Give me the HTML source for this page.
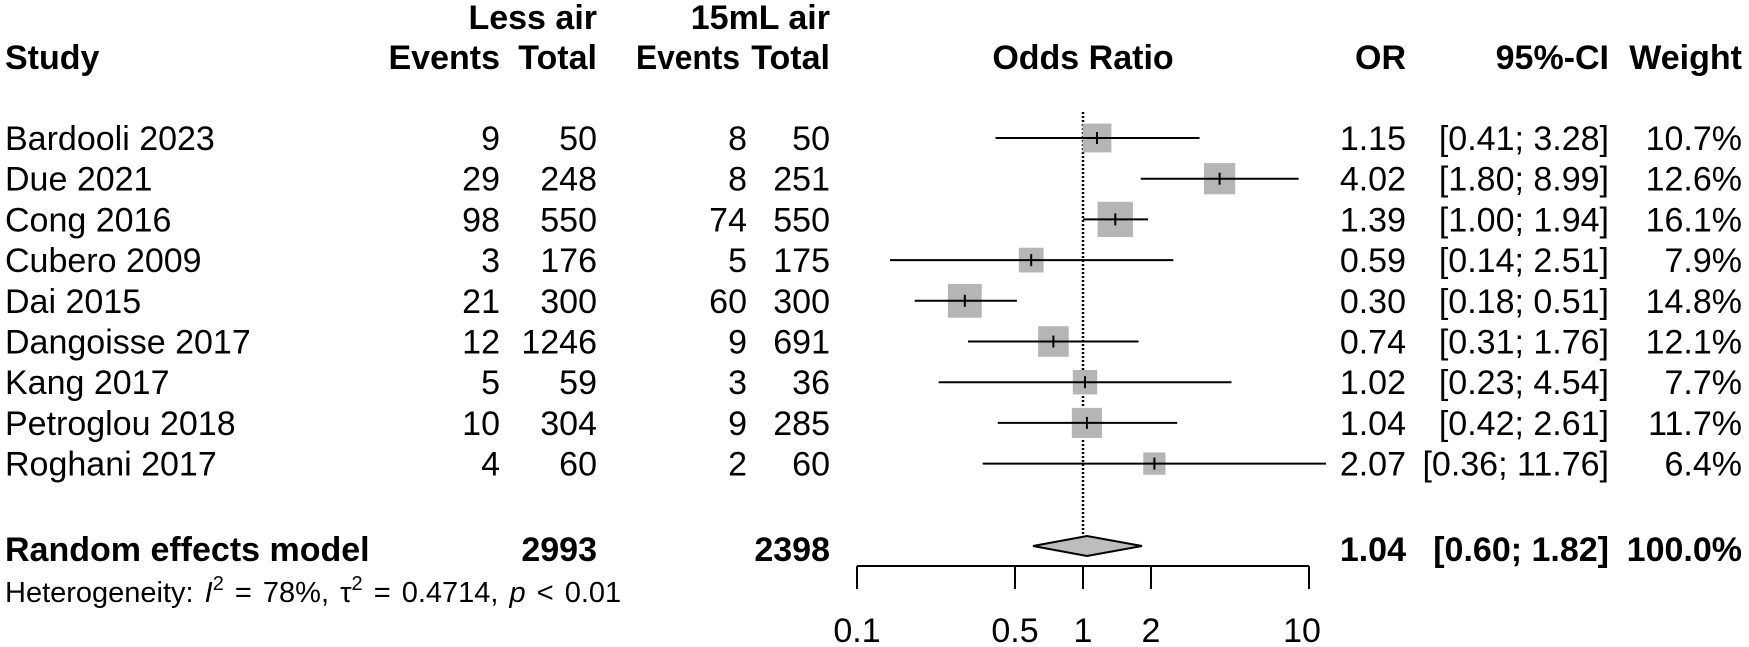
<!DOCTYPE html>
<html><head><meta charset="utf-8"><style>
html,body{margin:0;padding:0;background:#fff}
svg{display:block}
text{font-family:"Liberation Sans",Arial,sans-serif;fill:#000}
.b{font-weight:bold}
.r{text-anchor:end}
.c{text-anchor:middle}
</style></head><body>
<svg width="1749" height="647" viewBox="0 0 1749 647" xmlns="http://www.w3.org/2000/svg">
<g font-size="34">
<text class="b r" x="597" y="29">Less air</text>
<text class="b r" x="830" y="29">15mL air</text>
<text class="b" x="5" y="69">Study</text>
<text class="b r" x="500" y="69">Events</text>
<text class="b r" x="597" y="69">Total</text>
<text class="b" x="636" y="69" textLength="104" lengthAdjust="spacingAndGlyphs">Events</text>
<text class="b r" x="830" y="69">Total</text>
<text class="b c" x="1083" y="69">Odds Ratio</text>
<text class="b r" x="1406" y="69">OR</text>
<text class="b r" x="1609" y="69">95%-CI</text>
<text class="b r" x="1742" y="69">Weight</text>
</g>
<line x1="1083" y1="112" x2="1083" y2="537" stroke="#000" stroke-width="2.5" stroke-dasharray="2,2"/>
<g font-size="34" id="rows"></g>
<g font-size="34">
<text class="b" x="5" y="561">Random effects model</text>
<text class="b r" x="597" y="561">2993</text>
<text class="b r" x="830" y="561">2398</text>
<text class="b r" x="1406" y="561">1.04</text>
<text class="b r" x="1609" y="561">[0.60; 1.82]</text>
<text class="b r" x="1742" y="561">100.0%</text>
</g>
<polygon points="1033,546 1087,536 1142,546 1087,556" fill="#bdbdbd" stroke="#000" stroke-width="2"/>
<text x="5" y="602" font-size="29" word-spacing="3">Heterogeneity: <tspan font-style="italic">I</tspan><tspan dy="-12" font-size="20">2</tspan><tspan dy="12"> = 78%, τ</tspan><tspan dy="-12" font-size="20">2</tspan><tspan dy="12"> = 0.4714, </tspan><tspan font-style="italic">p</tspan> &lt; 0.01</text>
<g stroke="#000" stroke-width="2">
<line x1="857" y1="566" x2="1309" y2="566"/>
<line x1="857" y1="566" x2="857" y2="589"/>
<line x1="1015" y1="566" x2="1015" y2="589"/>
<line x1="1083" y1="566" x2="1083" y2="589"/>
<line x1="1151" y1="566" x2="1151" y2="589"/>
<line x1="1309" y1="566" x2="1309" y2="589"/>
</g>
<g font-size="34">
<text class="c" x="857" y="642">0.1</text>
<text class="c" x="1015" y="642">0.5</text>
<text class="c" x="1083" y="642">1</text>
<text class="c" x="1151" y="642">2</text>
<text class="c" x="1302" y="642">10</text>
</g>
<script>
var d=[
["Bardooli 2023",9,50,8,50,"1.15","[0.41; 3.28]","10.7%",1097,995.5,1199.6,10.7],
["Due 2021",29,248,8,251,"4.02","[1.80; 8.99]","12.6%",1219.6,1140.7,1298.6,12.6],
["Cong 2016",98,550,74,550,"1.39","[1.00; 1.94]","16.1%",1115.3,1083,1148,16.1],
["Cubero 2009",3,176,5,175,"0.59","[0.14; 2.51]","7.9%",1031.2,890,1173.3,7.9],
["Dai 2015",21,300,60,300,"0.30","[0.18; 0.51]","14.8%",964.8,914.7,1016.9,14.8],
["Dangoisse 2017",12,1246,9,691,"0.74","[0.31; 1.76]","12.1%",1053.4,968,1138.5,12.1],
["Kang 2017",5,59,3,36,"1.02","[0.23; 4.54]","7.7%",1085,938.7,1231.5,7.7],
["Petroglou 2018",10,304,9,285,"1.04","[0.42; 2.61]","11.7%",1086.9,997.8,1177.2,11.7],
["Roghani 2017",4,60,2,60,"2.07","[0.36; 11.76]","6.4%",1154.4,982.7,1326,6.4]];
var ns="http://www.w3.org/2000/svg",g=document.getElementById("rows"),svg=g.parentNode;
function el(t,a,p,txt){var e=document.createElementNS(ns,t);for(var k in a)e.setAttribute(k,a[k]);if(txt!==undefined)e.textContent=txt;(p||g).appendChild(e);return e;}
d.forEach(function(r,i){
 var c=138+i*40.7,b=c+12;
 el("text",{x:5,y:b},g,r[0]);
 el("text",{x:500,y:b,"class":"r"},g,r[1]);
 el("text",{x:597,y:b,"class":"r"},g,r[2]);
 el("text",{x:747,y:b,"class":"r"},g,r[3]);
 el("text",{x:830,y:b,"class":"r"},g,r[4]);
 el("text",{x:1406,y:b,"class":"r"},g,r[5]);
 el("text",{x:1609,y:b,"class":"r"},g,r[6]);
 el("text",{x:1742,y:b,"class":"r"},g,r[7]);
 var s=8.8*Math.sqrt(r[11]);
 el("rect",{x:r[8]-s/2,y:c-s/2,width:s,height:s,fill:"#b5b5b5"},svg);
 el("line",{x1:r[9],y1:c,x2:r[10],y2:c,stroke:"#000","stroke-width":2},svg);
 el("line",{x1:r[8],y1:c-6,x2:r[8],y2:c+6,stroke:"#000","stroke-width":2},svg);
});
</script>
</svg>
</body></html>
